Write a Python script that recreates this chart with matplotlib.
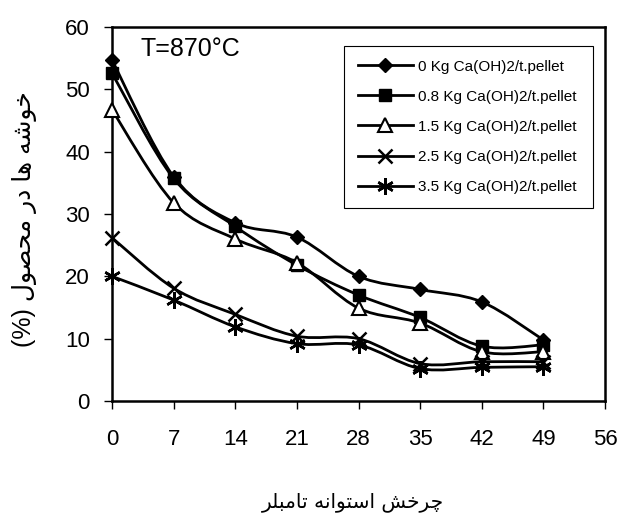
import numpy as np
import matplotlib
matplotlib.use('Agg')
import matplotlib.pyplot as plt
from matplotlib.path import Path
from matplotlib.patches import PathPatch
from matplotlib.lines import Line2D

plt.rcParams['font.family'] = ['Liberation Sans', 'DejaVu Sans']

# data
days = [0, 7, 14, 21, 28, 35, 42, 49]
lime_0 = [54.7, 36.0, 28.6, 26.3, 20.0, 17.9, 15.9, 9.8]
lime_08 = [52.6, 35.7, 28.0, 21.8, 17.0, 13.4, 8.8, 9.0]
lime_15 = [46.7, 31.8, 26.0, 22.2, 14.9, 12.5, 7.9, 7.9]
lime_25 = [26.2, 18.1, 13.9, 10.4, 10.0, 6.0, 6.3, 6.3]
lime_35 = [20.0, 16.2, 11.9, 9.2, 9.0, 5.2, 5.4, 5.5]
labels = ['0 Kg Ca(OH)2/t.pellet', '0.8 Kg Ca(OH)2/t.pellet', '1.5 Kg Ca(OH)2/t.pellet',
          '2.5 Kg Ca(OH)2/t.pellet', '3.5 Kg Ca(OH)2/t.pellet']
x_ticks = [0, 7, 14, 21, 28, 35, 42, 49, 56]
y_ticks = [0, 10, 20, 30, 40, 50, 60]

# Persian labels written in shaped (presentation) forms, visual order
# x: "چرخش استوانه تامبلر"   y: "خوشه ها در محصول (%)"
x_label = ("\uFEAE\uFEE0\uFE92\uFEE3\uFE8E\uFE97 "
           "\uFEEA\uFEE7\uFE8D\uFEEE\uFE98\uFEB3\uFE8D "
           "\uFEB6\uFEA7\uFEAE\uFB7C")
y_label = ("(%) \uFEDD\uFEEE\uFEBC\uFEA4\uFEE3 \uFEAD\uFEA9 "
           "\uFE8E\uFEEB \uFEEA\uFEB7\uFEEE\uFEA7")


def smooth_path(xs, ys):
    # Catmull-Rom style bezier through the points (like Excel smoothed lines)
    pts = np.column_stack([xs, ys]).astype(float)
    n = len(pts)
    verts = [pts[0]]
    codes = [Path.MOVETO]
    for i in range(n - 1):
        p0 = pts[i - 1] if i > 0 else pts[i]
        p1 = pts[i]
        p2 = pts[i + 1]
        p3 = pts[i + 2] if i + 2 < n else pts[i + 1]
        verts += [p1 + (p2 - p0) / 6., p2 - (p3 - p1) / 6., p2]
        codes += [Path.CURVE4] * 3
    return Path(verts, codes)


fig = plt.figure(figsize=(6.19, 5.18), dpi=100)
ax = fig.add_axes([112/619, 1-401/518, 493/619, 374/518])

series = [lime_0, lime_08, lime_15, lime_25, lime_35]
styles = [dict(marker='D', ms=7, mfc='black', mec='black'),
          dict(marker='s', ms=9, mfc='black', mec='black'),
          dict(marker='^', ms=10, mfc='white', mec='black', mew=1.5),
          dict(marker='x', ms=10, mec='black', mew=1.8),
          dict(marker=(6, 2, 0), ms=12, mec='black', mew=1.8)]

handles = []
for vals, st, lab in zip(series, styles, labels):
    ax.add_patch(PathPatch(smooth_path(days, vals), fill=False, edgecolor='black',
                           lw=2.0, transform=ax.transData, zorder=2))
    ax.plot(days, vals, ls='none', zorder=3, clip_on=False, **st)
    handles.append(Line2D([], [], color='black', lw=2.0, **st))

ax.set_xlim(0, 56)
ax.set_ylim(0, 60)
ax.set_xticks(x_ticks)
ax.set_yticks(y_ticks)
ax.tick_params(axis='x', direction='out', length=6, width=1, pad=14, labelsize=16)
ax.tick_params(axis='y', direction='out', length=6, width=1, pad=10, labelsize=16)
for sp in ax.spines.values():
    sp.set_linewidth(1.8)

ax.text(0.058, 0.94, 'T=870°C', transform=ax.transAxes, fontsize=18, va='center', ha='left')

leg = ax.legend(handles=handles, labels=labels, loc='upper left',
                bbox_to_anchor=((344-112)/493, (401-215)/374, (593-344)/493, (215-46)/374),
                mode='expand', borderaxespad=0, fontsize=11, handlelength=3.6,
                handletextpad=0.35, labelspacing=1.05, borderpad=0.9,
                fancybox=False, framealpha=1, edgecolor='black')
leg.get_frame().set_linewidth(0.8)

fig.text(353/619, 1-502/518, x_label, ha='center', va='center', fontsize=14.5,
         family=['DejaVu Sans'])
fig.text(25/619, 1-219/518, y_label, ha='center', va='center', fontsize=18,
         rotation=90, family=['Liberation Sans', 'DejaVu Sans'])

fig.savefig('out.png', dpi=100)
